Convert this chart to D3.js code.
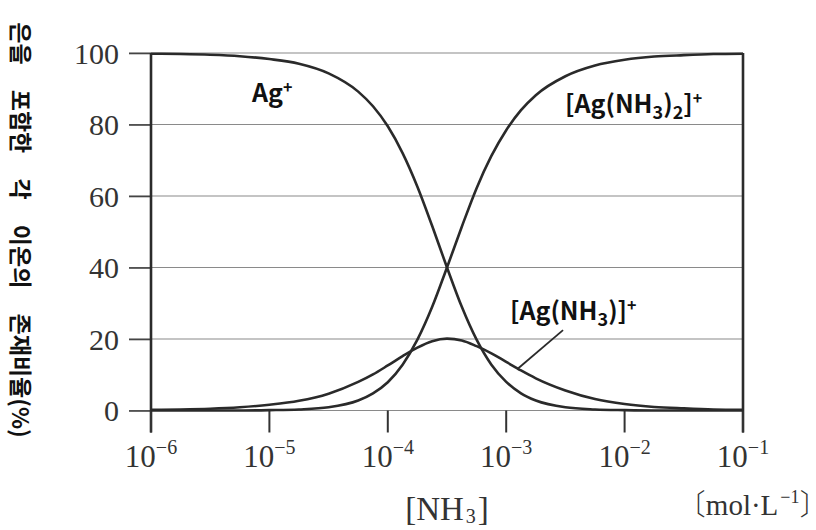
<!DOCTYPE html>
<meta charset="utf-8">
<body style="margin:0;background:#fff">
<script src="https://cdn.jsdelivr.net/npm/d3@7"></script>
<script>

    // log10 of [NH3] (mol/L) where the curves were read
    var logX = [-6, -5.75, -5.5, -5.25, -5, -4.75, -4.5, -4.25, -4.125, -4, -3.875, -3.75,
                -3.625, -3.5, -3.375, -3.25, -3.125, -3, -2.875, -2.75, -2.5, -2.25, -2, -1.75, -1.5, -1.25, -1];

    // percentage of each ion
    var agFree = [99.8, 99.7, 99.5, 99.1, 98.3, 97.0, 94.3, 89.2, 85.1, 79.5, 72.0, 62.6,
                  51.6, 40.0, 29.0, 19.8, 12.8, 8.0, 4.8, 2.8, 0.9, 0.3, 0.1, 0.0, 0.0, 0.0, 0.0];
    var agOne  = [0.2, 0.3, 0.5, 0.9, 1.6, 2.7, 4.7, 8.0, 10.1, 12.6, 15.2, 17.6,
                  19.4, 20.1, 19.6, 18.0, 16.0, 13.6, 11.2, 9.0, 5.6, 3.2, 1.8, 1.0, 0.6, 0.3, 0.2];
    var agTwo  = [0.0, 0.0, 0.0, 0.0, 0.1, 0.3, 0.9, 2.8, 4.8, 7.9, 12.8, 19.8,
                  29.0, 40.0, 51.4, 62.2, 71.2, 78.4, 84.0, 88.2, 93.5, 96.5, 98.1, 99.0, 99.4, 99.7, 99.8];

    var yTicks = [0, 20, 40, 60, 80, 100];
    var xTicks = [-6, -5, -4, -3, -2, -1];

    // label anchors in data units: [log10 x, percent]
    var labels = [
        {name: "Ag", sup: "+", at: [-5.147, 86.3]},
        {name: "[Ag(NH3)2]", sup: "+", at: [-2.503, 83.2]},
        {name: "[Ag(NH3)]", sup: "+", at: [-2.968, 25.3]}
    ];
    var pointer = [[-2.52, 22.5], [-2.905, 11.6]];

    var W = 816, H = 530;
    var pL = 151, pR = 743, pT = 53, pB = 410.5;

    var x = d3.scaleLinear().domain([-6, -1]).range([pL, pR]);
    var y = d3.scaleLinear().domain([0, 100]).range([pB, pT]);

    var svg = d3.select("body").append("svg")
        .attr("width", W)
        .attr("height", H);

    // grid
    svg.append("g")
        .selectAll("line")
        .data(yTicks)
        .enter().append("line")
        .attr("x1", pL - 22).attr("x2", pR)
        .attr("y1", function(d) { return y(d); })
        .attr("y2", function(d) { return y(d); })
        .attr("stroke", "#8a8a8a")
        .attr("stroke-width", 1.2);

    // y axis
    var yAxis = svg.append("g")
        .attr("transform", "translate(" + pL + ",0)")
        .call(d3.axisLeft(y).tickValues(yTicks).tickSize(22).tickPadding(10));
    yAxis.select(".domain").remove();
    yAxis.selectAll(".tick line").attr("stroke", "#444").attr("stroke-width", 1.6);
    yAxis.selectAll(".tick text")
        .attr("font-family", "Liberation Serif, serif")
        .attr("font-size", 30)
        .attr("fill", "#333")
        .attr("dy", "0.34em");

    // frame lines
    svg.append("line")
        .attr("x1", pL).attr("x2", pL)
        .attr("y1", pT).attr("y2", pB + 22)
        .attr("stroke", "#2b2b2b").attr("stroke-width", 2.6);
    svg.append("line")
        .attr("x1", pR).attr("x2", pR)
        .attr("y1", pT).attr("y2", pB + 22)
        .attr("stroke", "#2b2b2b").attr("stroke-width", 2.6);

    // x ticks
    var xt = svg.append("g").selectAll("g")
        .data(xTicks)
        .enter().append("g")
        .attr("transform", function(d) { return "translate(" + x(d) + ",0)"; });
    xt.append("line")
        .attr("y1", pB).attr("y2", pB + 22)
        .attr("stroke", "#333").attr("stroke-width", 2);
    var xl = xt.append("text")
        .attr("y", 467)
        .attr("text-anchor", "middle")
        .attr("font-family", "Liberation Serif, serif")
        .attr("fill", "#333");
    xl.append("tspan").attr("font-size", 31).text("10");
    xl.append("tspan").attr("font-size", 20).attr("dy", -13)
        .text(function(d) { return "\u2212" + (-d); });

    // curves
    var line = d3.line()
        .x(function(d) { return x(d[0]); })
        .y(function(d) { return y(d[1]); })
        .curve(d3.curveMonotoneX);

    [agFree, agOne, agTwo].forEach(function(s) {
        svg.append("path")
            .datum(logX.map(function(v, i) { return [v, s[i]]; }))
            .attr("d", line)
            .attr("fill", "none")
            .attr("stroke", "#2a2a2a")
            .attr("stroke-width", 2.6);
    });

    // curve labels (digits become subscripts)
    labels.forEach(function(l) {
        var t = svg.append("text")
            .attr("x", x(l.at[0])).attr("y", y(l.at[1]))
            .attr("font-family", "Noto Sans CJK KR, Noto Sans, sans-serif")
            .attr("font-weight", "bold")
            .attr("font-size", 25)
            .attr("fill", "#111");
        var low = false;
        l.name.split(/(\d)/).forEach(function(p) {
            if (p === "") return;
            var sub = /\d/.test(p);
            var ts = t.append("tspan").text(p);
            if (sub) ts.attr("font-size", 18).attr("dy", low ? 0 : 6);
            else if (low) ts.attr("dy", -6);
            low = sub;
        });
        t.append("tspan").attr("font-size", 16).attr("dy", (low ? -6 : 0) - 9).text(l.sup);
    });

    svg.append("line")
        .attr("x1", x(pointer[0][0])).attr("y1", y(pointer[0][1]))
        .attr("x2", x(pointer[1][0])).attr("y2", y(pointer[1][1]))
        .attr("stroke", "#2a2a2a").attr("stroke-width", 1.8);

    // axis titles
    var nh = svg.append("text")
        .attr("x", 447).attr("y", 520)
        .attr("text-anchor", "middle")
        .attr("font-family", "Liberation Serif, serif")
        .attr("font-size", 33)
        .attr("fill", "#333");
    nh.append("tspan").text("[NH");
    nh.append("tspan").attr("font-size", 20).attr("dy", 3).attr("dx", 2).text("3");
    nh.append("tspan").attr("dy", -3).attr("dx", 2).text("]");

    var un = svg.append("text")
        .attr("x", 814).attr("y", 515)
        .attr("text-anchor", "end")
        .attr("font-family", "Liberation Serif, serif")
        .attr("font-size", 29)
        .attr("fill", "#333");
    un.append("tspan")
        .style("font-family", "Noto Sans CJK JP")
        .style("font-feature-settings", "'halt'")
        .style("font-weight", 300)
        .text("\u3014");
    un.append("tspan").text("mol\u00b7L");
    un.append("tspan").attr("font-size", 18).attr("dy", -12).attr("dx", 2).text("\u22121");
    un.append("tspan").attr("dy", 12)
        .style("font-family", "Noto Sans CJK JP")
        .style("font-feature-settings", "'halt'")
        .style("font-weight", 300)
        .text("\u3015");

    svg.append("text")
        .attr("transform", "translate(22,230) rotate(90)")
        .attr("text-anchor", "middle")
        .attr("dominant-baseline", "central")
        .attr("font-family", "Noto Sans CJK KR, sans-serif")
        .attr("font-weight", "bold")
        .attr("font-size", 23)
        .attr("word-spacing", 20)
        .attr("fill", "#111")
        .text("은을 포함한 각 이온의 존재비율(%)");

</script>
</body>
